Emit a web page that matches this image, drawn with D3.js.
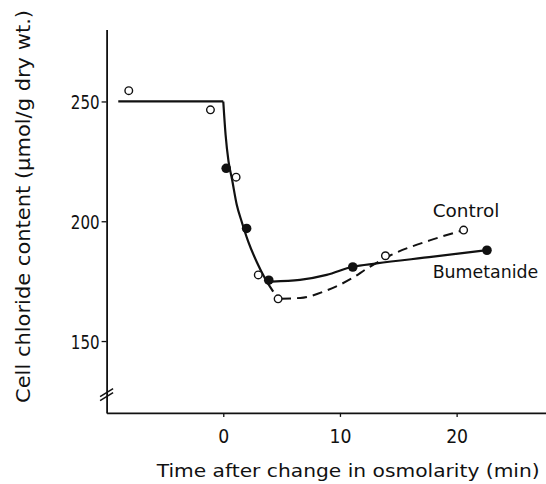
<!DOCTYPE html>
<html>
<head>
<meta charset="utf-8">
<script src="https://cdn.jsdelivr.net/npm/d3@7"></script>
<style>
  html, body { margin: 0; padding: 0; background: #fff; }
  svg { display: block; }
  text { font-family: "DejaVu Sans", sans-serif; fill: #111; }
</style>
</head>
<body>
<svg id="chart" width="546" height="484"></svg>
<script>
// ---- data ----
const xTicks = [0, 10, 20];
const yTicks = [150, 200, 250];
const xTitle = "Time after change in osmolarity (min)";
const yTitle = "Cell chloride content (\u03bcmol/g dry wt.)";

// measured points
const controlPoints = [[-8.1, 254.5], [-1.1, 246.5], [1.1, 218.4], [3.0, 177.6], [4.7, 167.6], [13.9, 185.6], [20.6, 196.3]];
const bumetanidePoints = [[0.25, 222.1], [2.0, 197.0], [3.9, 175.4], [11.1, 180.9], [22.6, 187.9]];

// fitted curves
const baselineLine = [[-9.0, 250], [0, 250]];
const decayCurve = [[0, 250], [0.2, 236], [0.45, 225], [0.75, 217.5], [1.15, 207], [1.58, 199.8], [2.14, 191.5], [2.86, 183.1], [3.57, 176.2], [4.28, 170.6]];
const bumetanideCurve = [[4.15, 174.8], [6.57, 175.5], [8.86, 177.6], [11.09, 181.0], [13.14, 182.4], [18.0, 185.2], [22.62, 188.0]];
const controlCurve = [[4.95, 167.7], [6.6, 168.0], [8.9, 171.2], [11.1, 176.4], [12.3, 180.2], [14.3, 185.7], [17.7, 192.0], [20.6, 196.3]];

const seriesLabels = ["Control", "Bumetanide"];

// ---- scales ----
const svg = d3.select("#chart");
const x = d3.scaleLinear().domain([-10, 27.66]).range([106.6, 546]);
const y = d3.scaleLinear().domain([120, 280]).range([412.9, 29.6]);

const ink = "#111";

// ---- axes ----
const xAxis = svg.append("g")
  .attr("transform", `translate(0,${y(120)})`)
  .call(d3.axisBottom(x).tickValues(xTicks).tickSize(4).tickSizeOuter(0).tickPadding(12));
const yAxis = svg.append("g")
  .attr("transform", `translate(${x(-10)},0)`)
  .call(d3.axisLeft(y).tickValues(yTicks).tickSize(5).tickSizeOuter(0).tickPadding(2));

[xAxis, yAxis].forEach(g => {
  g.select(".domain").attr("stroke", ink).attr("stroke-width", 1.8);
  g.selectAll(".tick line").attr("stroke", ink).attr("stroke-width", 1.3);
  g.selectAll(".tick text").style("font-size", "20px").attr("fill", ink)
    .attr("lengthAdjust", "spacingAndGlyphs");
});
xAxis.selectAll(".tick text").attr("textLength", d => String(d).length * 11).attr("dy", "0.71em");
yAxis.selectAll(".tick text").attr("textLength", d => String(d).length * 9.6).attr("dy", "0.36em");

// axis break marks
const bx = x(-10), by = y(128.5);
[0, 4].forEach(off => {
  svg.append("line")
    .attr("x1", bx - 6.5).attr("y1", by + off + 4)
    .attr("x2", bx + 6.5).attr("y2", by + off - 4)
    .attr("stroke", ink).attr("stroke-width", 1.5);
});

// ---- lines ----
const lineSharp = d3.line().x(d => x(d[0])).y(d => y(d[1]));
const lineSmooth = d3.line().x(d => x(d[0])).y(d => y(d[1])).curve(d3.curveMonotoneX);

svg.append("path").attr("d", lineSharp(baselineLine))
  .attr("fill", "none").attr("stroke", ink).attr("stroke-width", 2.2);
svg.append("path").attr("d", lineSmooth(decayCurve))
  .attr("fill", "none").attr("stroke", ink).attr("stroke-width", 2.2);
svg.append("path").attr("d", lineSmooth(bumetanideCurve))
  .attr("fill", "none").attr("stroke", ink).attr("stroke-width", 2.2);
svg.append("path").attr("d", lineSmooth(controlCurve))
  .attr("fill", "none").attr("stroke", ink).attr("stroke-width", 2)
  .attr("stroke-dasharray", "10,6");

// ---- points ----
svg.selectAll("circle.ctrl").data(controlPoints).join("circle")
  .attr("class", "ctrl")
  .attr("cx", d => x(d[0])).attr("cy", d => y(d[1])).attr("r", 3.8)
  .attr("fill", "#fff").attr("stroke", ink).attr("stroke-width", 1.4);
svg.selectAll("circle.bum").data(bumetanidePoints).join("circle")
  .attr("class", "bum")
  .attr("cx", d => x(d[0])).attr("cy", d => y(d[1])).attr("r", 4.8)
  .attr("fill", ink);

// ---- labels ----
svg.append("text").text(seriesLabels[0])
  .attr("x", 432.7).attr("y", 216.7).style("font-size", "18px")
  .attr("textLength", 66.6).attr("lengthAdjust", "spacingAndGlyphs");
svg.append("text").text(seriesLabels[1])
  .attr("x", 432.7).attr("y", 278.3).style("font-size", "18px")
  .attr("textLength", 105.6).attr("lengthAdjust", "spacingAndGlyphs");

// axis titles
svg.append("text").text(xTitle)
  .attr("x", 156.7).attr("y", 477).style("font-size", "18px")
  .attr("textLength", 383).attr("lengthAdjust", "spacingAndGlyphs");
svg.append("text").text(yTitle)
  .attr("transform", "translate(29.5,403) rotate(-90)")
  .style("font-size", "19px")
  .attr("textLength", 393).attr("lengthAdjust", "spacingAndGlyphs");
</script>
</body>
</html>
